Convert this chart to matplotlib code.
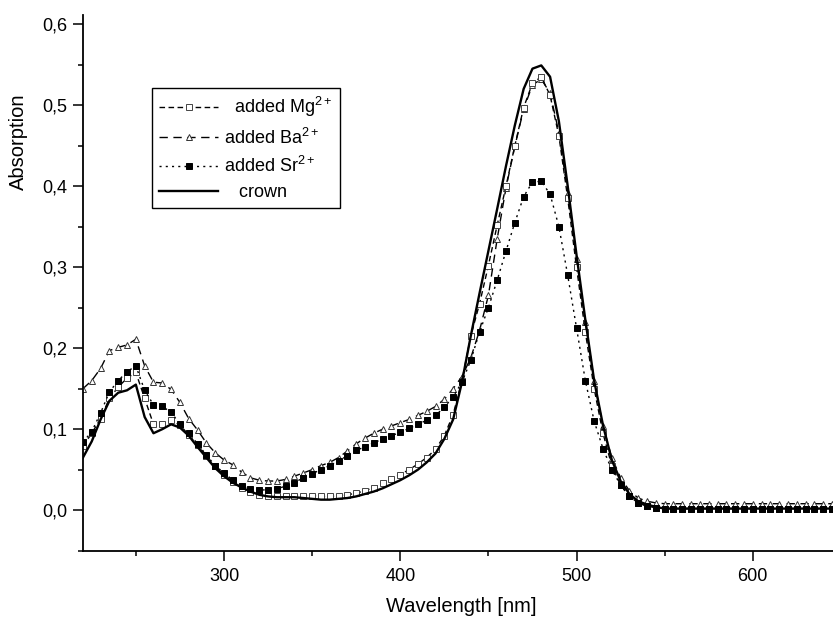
import matplotlib
matplotlib.use('Agg')
import matplotlib.pyplot as plt
import numpy as np
from matplotlib.ticker import MultipleLocator, FuncFormatter

plt.rcParams['font.family'] = ['Liberation Sans', 'DejaVu Sans']
plt.rcParams['mathtext.default'] = 'regular'

# wavelength grid, 5 nm steps
wl = np.arange(220, 650, 5)

crown = [0.065, 0.085, 0.112, 0.135, 0.145, 0.148, 0.155, 0.115, 0.095, 0.100,
         0.106, 0.102, 0.092, 0.078, 0.065, 0.052, 0.042, 0.034, 0.028, 0.023,
         0.019, 0.017, 0.016, 0.016, 0.016, 0.015, 0.014, 0.013, 0.013, 0.014,
         0.015, 0.017, 0.020, 0.023, 0.027, 0.032, 0.037, 0.043, 0.050, 0.059,
         0.070, 0.088, 0.112, 0.158, 0.215, 0.268, 0.320, 0.372, 0.425, 0.475,
         0.520, 0.545, 0.549, 0.535, 0.480, 0.400, 0.315, 0.235, 0.160, 0.105,
         0.062, 0.036, 0.020, 0.011, 0.007, 0.004, 0.002, 0.002, 0.002, 0.002,
         0.002, 0.002, 0.002, 0.002, 0.002, 0.002, 0.002, 0.002, 0.002, 0.002,
         0.002, 0.002, 0.002, 0.002, 0.002, 0.002]

mg = [0.079, 0.095, 0.113, 0.138, 0.152, 0.163, 0.170, 0.138, 0.106, 0.107,
      0.111, 0.105, 0.093, 0.080, 0.067, 0.054, 0.044, 0.035, 0.028, 0.022,
      0.019, 0.018, 0.018, 0.018, 0.018, 0.018, 0.018, 0.017, 0.017, 0.018,
      0.019, 0.021, 0.024, 0.028, 0.033, 0.038, 0.044, 0.050, 0.057, 0.065,
      0.075, 0.092, 0.118, 0.160, 0.215, 0.255, 0.302, 0.352, 0.400, 0.450,
      0.497, 0.527, 0.535, 0.512, 0.462, 0.385, 0.300, 0.220, 0.150, 0.095,
      0.055, 0.031, 0.017, 0.009, 0.005, 0.003, 0.002, 0.002, 0.002, 0.002,
      0.002, 0.002, 0.002, 0.002, 0.002, 0.002, 0.002, 0.002, 0.002, 0.002,
      0.002, 0.002, 0.002, 0.002, 0.002, 0.002]

ba = [0.150, 0.160, 0.175, 0.197, 0.201, 0.204, 0.211, 0.178, 0.158, 0.157,
      0.149, 0.133, 0.113, 0.099, 0.083, 0.071, 0.062, 0.056, 0.047, 0.040,
      0.037, 0.036, 0.036, 0.038, 0.042, 0.046, 0.050, 0.055, 0.059, 0.065,
      0.073, 0.082, 0.089, 0.095, 0.100, 0.104, 0.108, 0.112, 0.117, 0.122,
      0.128, 0.137, 0.150, 0.165, 0.188, 0.222, 0.265, 0.335, 0.398, 0.449,
      0.495, 0.525, 0.532, 0.515, 0.466, 0.392, 0.310, 0.232, 0.160, 0.104,
      0.065, 0.040, 0.024, 0.015, 0.011, 0.009, 0.008, 0.008, 0.008, 0.008,
      0.008, 0.008, 0.008, 0.008, 0.008, 0.008, 0.008, 0.008, 0.008, 0.008,
      0.008, 0.008, 0.008, 0.008, 0.008, 0.008]

sr = [0.084, 0.097, 0.120, 0.146, 0.160, 0.171, 0.178, 0.148, 0.130, 0.128,
      0.121, 0.106, 0.095, 0.082, 0.068, 0.055, 0.046, 0.037, 0.030, 0.026,
      0.025, 0.025, 0.026, 0.030, 0.034, 0.040, 0.045, 0.050, 0.055, 0.061,
      0.067, 0.074, 0.078, 0.083, 0.088, 0.092, 0.096, 0.101, 0.106, 0.111,
      0.117, 0.127, 0.140, 0.158, 0.185, 0.220, 0.250, 0.284, 0.320, 0.355,
      0.387, 0.405, 0.406, 0.390, 0.350, 0.290, 0.225, 0.160, 0.110, 0.076,
      0.050, 0.031, 0.017, 0.009, 0.005, 0.003, 0.002, 0.002, 0.002, 0.002,
      0.002, 0.002, 0.002, 0.002, 0.002, 0.002, 0.002, 0.002, 0.002, 0.002,
      0.002, 0.002, 0.002, 0.002, 0.002, 0.002]

fig = plt.figure(figsize=(8.33, 6.2), dpi=100)
ax = fig.add_axes([0.0996, 0.111, 0.9004, 0.8645])

l_ba, = ax.plot(wl, ba, color='k', lw=1.0, dashes=(6, 4), marker='^', ms=5,
                mfc='white', mec='#333333', mew=0.7, label='added Ba$^{2+}$')
l_mg, = ax.plot(wl, mg, color='k', lw=1.0, dashes=(4, 2.5), marker='s', ms=4.5,
                mfc='white', mec='#444444', mew=0.7, label='  added Mg$^{2+}$')
l_sr, = ax.plot(wl, sr, color='k', lw=1.0, dashes=(1.5, 3), marker='s', ms=4.5,
                mfc='k', mec='k', mew=0.7, label='added Sr$^{2+}$')
l_cr, = ax.plot(wl, crown, color='k', lw=1.7, label='   crown')

ax.set_xlim(220, 645.5)
ax.set_ylim(-0.0506, 0.611)

for s in ['top', 'right']:
    ax.spines[s].set_visible(False)
for s in ['left', 'bottom']:
    ax.spines[s].set_linewidth(1.3)

ax.xaxis.set_major_locator(MultipleLocator(100))
ax.xaxis.set_minor_locator(MultipleLocator(50))
ax.yaxis.set_major_locator(MultipleLocator(0.1))
ax.yaxis.set_minor_locator(MultipleLocator(0.05))
ax.yaxis.set_major_formatter(FuncFormatter(lambda v, p: f'{v:.1f}'.replace('.', ',').replace('-0,0', '0,0')))
ax.tick_params(which='major', direction='out', length=7, width=1.1, labelsize=13)
ax.tick_params(which='minor', direction='out', length=3.5, width=1.1)
ax.tick_params(axis='y', pad=4)
ax.tick_params(axis='x', pad=5)

ax.set_xlabel('Wavelength [nm]', fontsize=14.5)
ax.xaxis.set_label_coords(0.505, -0.085)
ax.set_ylabel('Absorption', fontsize=14.5)
ax.yaxis.set_label_coords(-0.073, 0.763)

leg = ax.legend([l_mg, l_ba, l_sr, l_cr],
                [l_mg.get_label(), l_ba.get_label(), l_sr.get_label(), l_cr.get_label()],
                loc='upper left', bbox_to_anchor=(0.0916, 0.864), borderaxespad=0,
                fontsize=13, numpoints=1, handlelength=3.3, handletextpad=0.3,
                labelspacing=0.45, fancybox=False, framealpha=1,
                edgecolor='k', borderpad=0.4)
leg.get_frame().set_linewidth(1.0)

plt.savefig('out.png', dpi=100)
